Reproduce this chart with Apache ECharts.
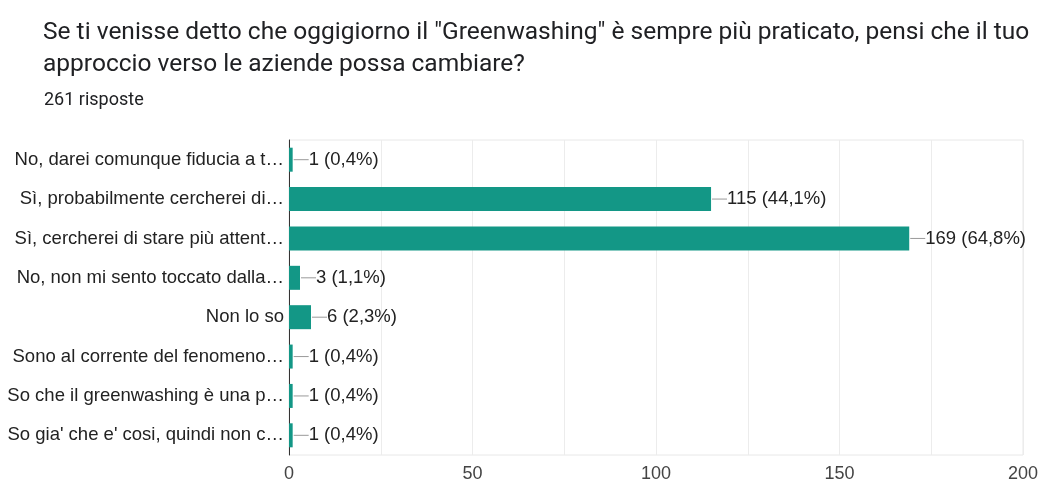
<!DOCTYPE html>
<html><head><meta charset="utf-8">
<script src="https://cdn.jsdelivr.net/npm/echarts@6/dist/echarts.min.js"></script>
<style>html,body{margin:0;padding:0;background:#fff}#c{width:1042px;height:484px}</style>
</head><body><div id="c"></div>
<script>
const categories = [
  "No, darei comunque fiducia a t…",
  "Sì, probabilmente cercherei di…",
  "Sì, cercherei di stare più attent…",
  "No, non mi sento toccato dalla…",
  "Non lo so",
  "Sono al corrente del fenomeno…",
  "So che il greenwashing è una p…",
  "So gia' che e' cosi, quindi non c…"
];
const counts = [1, 115, 169, 3, 6, 1, 1, 1];
const percents = ["0,4%", "44,1%", "64,8%", "1,1%", "2,3%", "0,4%", "0,4%", "0,4%"];
const xTicks = [0, 50, 100, 150, 200];

const chart = echarts.init(document.getElementById('c'), null, {renderer: 'canvas'});
const TFONT = 'Roboto, "Liberation Sans", Arial, sans-serif';
const LFONT = '"Liberation Sans", Arial, Helvetica, sans-serif';
chart.setOption({
  animation: false,
  textStyle: {fontFamily: LFONT},
  title: [
    {text: 'Se ti venisse detto che oggigiorno il "Greenwashing" è sempre più praticato, pensi che il tuo\napproccio verso le aziende possa cambiare?',
     left: 38, top: 12,
     textStyle: {fontFamily: TFONT, fontSize: 24.5, fontWeight: 'normal', color: '#202124', lineHeight: 32}},
    {text: '261 risposte', left: 39, top: 86,
     textStyle: {fontFamily: TFONT, fontSize: 18, fontWeight: 'normal', color: '#202124'}}
  ],
  grid: {left: 289, right: 19, top: 140, bottom: 29, show: true, borderColor: '#e8e8e8', borderWidth: 1},
  xAxis: {
    type: 'value', min: 0, max: 200, interval: 25,
    axisLine: {show: false}, axisTick: {show: false},
    splitLine: {lineStyle: {color: '#ececec', width: 1}},
    axisLabel: {color: '#444', fontSize: 18, fontFamily: LFONT, margin: 10,
      formatter: v => xTicks.indexOf(v) >= 0 ? String(v) : ''}
  },
  yAxis: {
    type: 'category', data: categories, inverse: true,
    axisLine: {show: true, lineStyle: {color: '#333', width: 1}},
    axisTick: {show: false},
    axisLabel: {color: '#222', fontSize: 18.5, fontFamily: LFONT, margin: 5}
  },
  series: [{
    type: 'bar', data: counts, barWidth: 24,
    itemStyle: {color: '#139786'},
    label: {
      show: true, position: 'right', distance: 1,
      formatter: p => '{ln| }' + p.value + ' (' + percents[p.dataIndex] + ')',
      color: '#222', fontSize: 18.5, fontFamily: LFONT,
      rich: {ln: {width: 15, height: 1, backgroundColor: '#999', padding: 0}}
    }
  }]
});
</script></body></html>
